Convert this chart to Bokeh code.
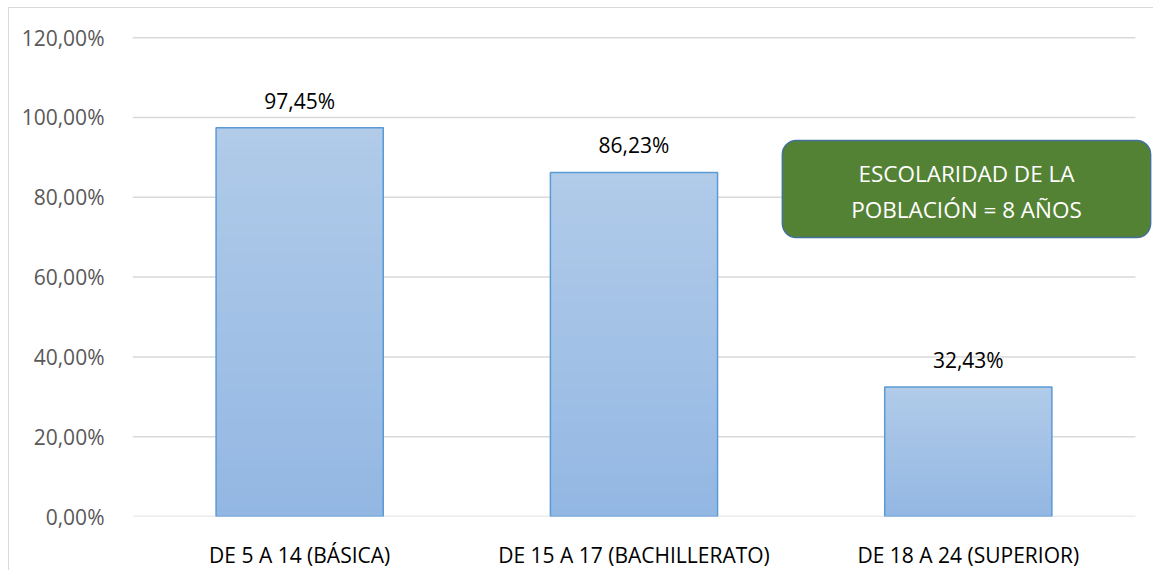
from bokeh.plotting import figure
from bokeh.models import Range1d, FixedTicker, Label, ColumnDataSource
from bokeh.core.properties import value
from bokeh.embed import file_html
from bokeh.resources import INLINE

categories = ["DE 5 A 14 (BÁSICA)", "DE 15 A 17 (BACHILLERATO)", "DE 18 A 24 (SUPERIOR)"]
values = [0.9745, 0.8623, 0.3243]
value_labels = ["97,45%", "86,23%", "32,43%"]
y_ticks = [0.0, 0.2, 0.4, 0.6, 0.8, 1.0, 1.2]
y_tick_labels = ["0,00%", "20,00%", "40,00%", "60,00%", "80,00%", "100,00%", "120,00%"]
box_lines = ["ESCOLARIDAD DE LA", "POBLACIÓN = 8 AÑOS"]

FONT = "Open Sans"
ncat = len(categories)
xpos = [i + 0.5 for i in range(ncat)]

p = figure(x_range=Range1d(0, 3.051), y_range=Range1d(0, 1.203),
           width=1145, height=563, output_backend="svg", toolbar_location=None,
           min_border_left=123, min_border_right=2, min_border_top=28, min_border_bottom=50)
p.margin = (7, 0, 0, 8)
p.styles = {"border-top": "1px solid #d9d9d9", "border-left": "1px solid #d9d9d9"}
p.background_fill_color = "white"
p.border_fill_color = "white"
p.outline_line_color = None

# horizontal gridlines spanning the category area only
p.segment(x0=[0] * len(y_ticks), x1=[ncat] * len(y_ticks), y0=y_ticks, y1=y_ticks,
          line_color="#d9d9d9", line_width=1.5)

# gradient bars (overlapping slices, light at top, darker at bottom)
top_rgb = (177, 203, 233)
bot_rgb = (147, 183, 227)
N = 40
xs, bots, tops, cols = [], [], [], []
for x, v in zip(xpos, values):
    for k in range(N):
        t = (k + 0.5) / N
        r = [int(round(b + (a - b) * t)) for a, b in zip(top_rgb, bot_rgb)]
        xs.append(x)
        bots.append(v * k / N)
        tops.append(v)
        cols.append("#%02x%02x%02x" % tuple(r))
p.vbar(x=xs, bottom=bots, top=tops, width=0.5, fill_color=cols, line_color=None)
p.vbar(x=xpos, top=values, bottom=0, width=0.5, fill_alpha=0,
       line_color="#5b9bd5", line_width=1.5)

src = ColumnDataSource(dict(x=xpos, y=values, t=value_labels))
p.text(x="x", y="y", text="t", source=src, text_align="center", text_baseline="middle",
       y_offset=-27, text_font=value(FONT), text_font_size="21px", text_color="#000000")

# axes
p.yaxis.ticker = FixedTicker(ticks=y_ticks)
p.yaxis.major_label_overrides = {t: l for t, l in zip(y_ticks, y_tick_labels)}
p.yaxis.axis_line_color = None
p.yaxis.major_tick_line_color = None
p.yaxis.minor_tick_line_color = None
p.yaxis.major_label_standoff = 22
p.yaxis.major_label_text_font = FONT
p.yaxis.major_label_text_font_size = "21px"
p.yaxis.major_label_text_color = "#595959"

p.xaxis.ticker = FixedTicker(ticks=xpos)
p.xaxis.major_label_overrides = {x: c for x, c in zip(xpos, categories)}
p.xaxis.axis_line_color = None
p.xaxis.major_tick_line_color = None
p.xaxis.minor_tick_line_color = None
p.xaxis.major_label_standoff = 18
p.xaxis.major_label_text_font = FONT
p.xaxis.major_label_text_font_size = "21px"
p.xaxis.major_label_text_color = "#000000"

p.xgrid.grid_line_color = None
p.ygrid.grid_line_color = None

# annotation box
p.add_layout(Label(x=2.4946, y=0.8207, text=" ", text_align="center", text_baseline="middle",
                   text_font_size="1px", padding=(184, 48),
                   background_fill_color="#548235", background_fill_alpha=1.0,
                   border_line_color="#41719c", border_line_width=1.5, border_radius=14))
for i, line in enumerate(box_lines):
    p.add_layout(Label(x=2.4946, y=0.860 - i * 0.0917, text=line, text_align="center",
                       text_baseline="middle", text_font=FONT, text_font_size="22.5px",
                       text_color="white"))

open("out.html", "w").write(file_html(p, INLINE))
